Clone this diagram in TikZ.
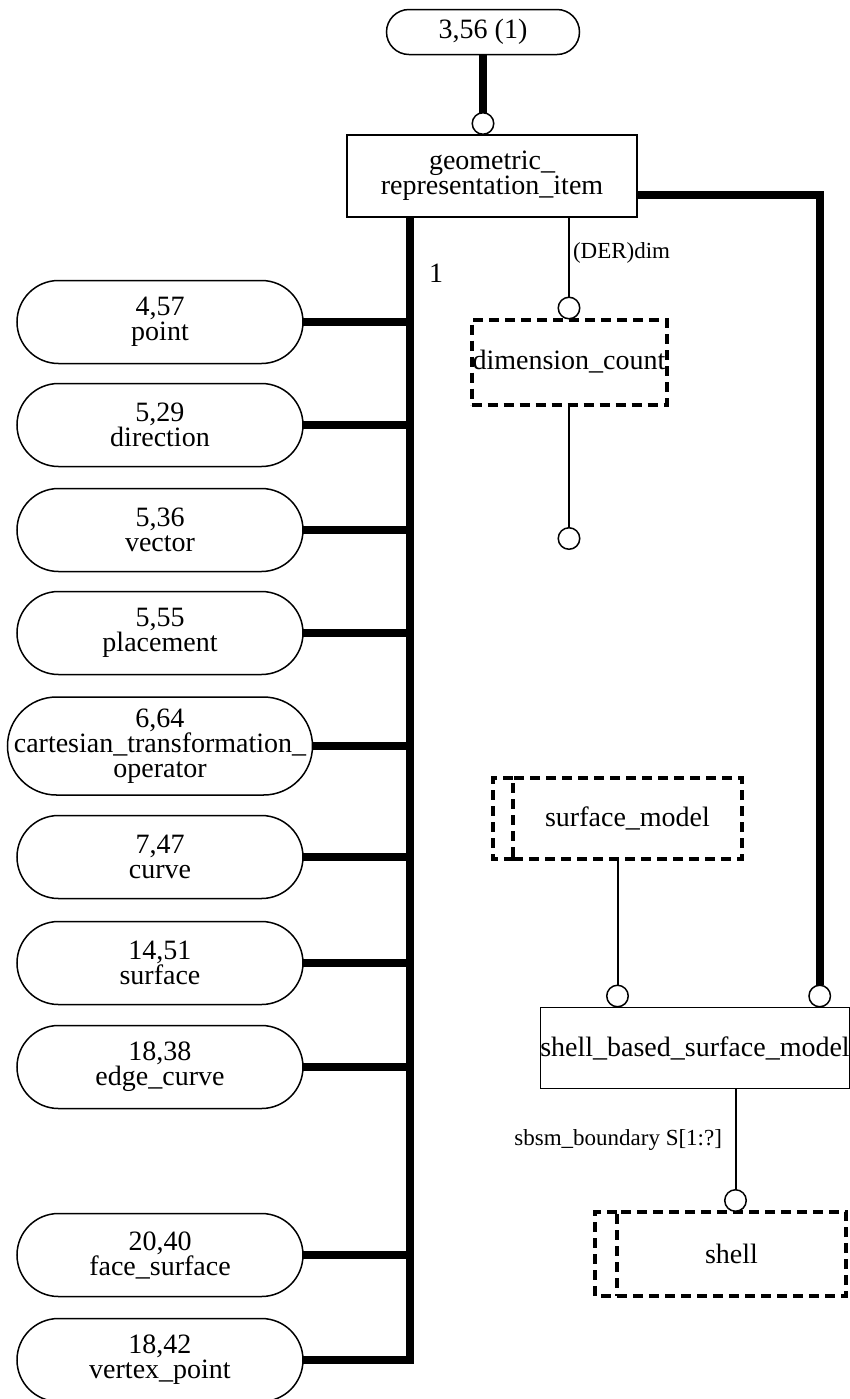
\documentclass[tikz,border=0pt]{standalone}
\usepackage{fontspec}
\setmainfont{Liberation Serif}
\usetikzlibrary{arrows.meta,calc}

\begin{document}
\begin{tikzpicture}[x=0.5pt,y=-0.5pt,
	every node/.style={font=\fontsize{14}{12.5}\selectfont,align=center,inner sep=0pt,outer sep=0pt},
	pill/.style={draw,line width=0.75pt,rounded corners=20.75pt,minimum width=143pt,minimum height=41.5pt},
	widepill/.style={pill,rounded corners=24.5pt,minimum width=152.5pt,minimum height=49pt},
	entity/.style={draw,line width=0.75pt,minimum height=41pt},
	dashbox/.style={draw,line width=2pt,dash pattern=on 5pt off 3pt},
	rolelabel/.style={font=\fontsize{11.5}{12}\selectfont},
	thickline/.style={line width=4pt,line join=miter},
	thinline/.style={line width=1pt},
	circ/.style={-{Circle[length=11.5pt,width=11.5pt,line width=0.75pt,fill=white]}}]
	
	\useasboundingbox (0,0) rectangle (850,1399);
	
	\coordinate (trunk) at (410,1360);
	\coordinate (dcend) at (569,550);
	
	%---------------------------------------------
	
	\node[pill,minimum width=96.5pt,minimum height=22.5pt,rounded corners=11.25pt] (top) at (483,32) {3,56 (1)};
	\node[entity,minimum width=145pt] (gri) at (492,176) {geometric\_\\representation\_item};
	\node[dashbox,minimum width=97.5pt,minimum height=42.5pt] (dc) at (569,362) {dimension\_count};
	\node[dashbox,minimum width=114.5pt,minimum height=40.5pt] (sm) at (627.5,818.5) {surface\_model};
	\node[entity,minimum width=153pt,minimum height=40.5pt] (sbsm) at (695,1048) {shell\_based\_surface\_model};
	\node[dashbox,minimum width=114.5pt,minimum height=42pt] (sh) at (731.5,1254) {shell};
	
	\draw[dashbox] (sm.north west) -- ++(-10pt,0) |- (sm.south west);
	\draw[dashbox] (sh.north west) -- ++(-11pt,0) |- (sh.south west);
	
	%---------------------------------------------
	
	\foreach \y/\txt/\sty [count=\i] in {
		322/{4,57\\point}/pill,
		425/{5,29\\direction}/pill,
		530/{5,36\\vector}/pill,
		633/{5,55\\placement}/pill,
		746/{6,64\\cartesian\_transformation\_\\operator}/widepill,
		857/{7,47\\curve}/pill,
		963/{14,51\\surface}/pill,
		1067/{18,38\\edge\_curve}/pill,
		1255/{20,40\\face\_surface}/pill,
		1360/{18,42\\vertex\_point}/pill} {
		\node[\sty] (p\i) at (160,\y) {\txt};
	}
	
	%---------------------------------------------
	
	\draw[thickline] (gri.south -| trunk) |- (p10.east);
	\foreach \i in {1,...,9} {
		\draw[thickline] (p\i.east) -- (p\i.east -| trunk);
	}
	\node (one) at (436,273) {1};
	
	%---------------------------------------------
	
	\draw[thickline,circ] (top.south) -- (top.south |- gri.north);
	\draw[thickline,circ] ([yshift=-9.5pt]gri.east) -| ([xshift=-15pt]sbsm.north east);
	
	\draw[thinline,circ] (gri.south -| dc.north) -- (dc.north);
	\node[rolelabel,anchor=west] (der) at (573,253) {(DER)dim};
	\draw[thinline,circ] (dc.south) -- (dcend);
	
	\draw[thinline,circ] ([xshift=-5pt]sm.south) -- ([xshift=-5pt]sm.south |- sbsm.north);
	\draw[thinline,circ] ([xshift=2pt]sh.north |- sbsm.south) -- ([xshift=2pt]sh.north);
	\node[rolelabel,anchor=east] (bnd) at (722,1140) {sbsm\_boundary S[1:?]};
	
	%---------------------------------------------
	
\end{tikzpicture}
\end{document}
